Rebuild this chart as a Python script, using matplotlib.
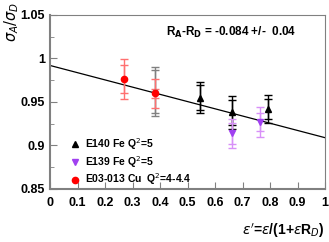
import matplotlib
matplotlib.use("Agg")
import matplotlib.pyplot as plt
import numpy as np

plt.rcParams['font.family'] = ['Liberation Sans', 'DejaVu Sans']

# E140 Fe, Q^2=5 (black up-triangles)
e140_x = [0.545, 0.661, 0.792]
e140_y = [0.955, 0.938, 0.942]
e140_stat = [0.014, 0.014, 0.012]
e140_tot = [0.018, 0.019, 0.0165]

# E139 Fe, Q^2=5 (violet down-triangles)
e139_x = [0.661, 0.763]
e139_y = [0.914, 0.927]
e139_stat = [0.012, 0.010]
e139_tot = [0.017, 0.0175]

# E03-013 Cu, Q^2=4-4.4 (red circles)
cu_x = [0.268, 0.383]
cu_y = [0.976, 0.960]
cu_stat = [0.016, 0.005]
cu_tot = [0.023, 0.0165]

# extra grey point (not in legend)
grey_x = [0.383]
grey_y = [0.962]
grey_stat = [0.025]
grey_tot = [0.028]

# fit line
fit_intercept = 0.992
fit_slope = -0.083

fig = plt.figure(figsize=(3.29, 2.42), dpi=100)
ax = fig.add_axes([50/329, 53/242, 275/329, 174/242])

def draw(x, y, stat, tot, color, barcolor, marker, ms, label=None):
    ax.errorbar(x, y, yerr=tot, fmt='none', ecolor=barcolor, elinewidth=1.0,
                capsize=3, capthick=1.0, zorder=2)
    ax.errorbar(x, y, yerr=stat, fmt='none', ecolor=barcolor, elinewidth=1.0,
                capsize=3, capthick=1.0, zorder=2)
    ax.plot(x, y, linestyle='none', marker=marker, color=color, ms=ms,
            label=label, zorder=3)

draw(grey_x, grey_y, grey_stat, grey_tot, '#808080', '#808080', 's', 3)
draw(e140_x, e140_y, e140_stat, e140_tot, 'black', 'black', '^', 4.5, 'E140 Fe Q$^2$=5')
draw(e139_x, e139_y, e139_stat, e139_tot, '#a040f0', '#d890f8', 'v', 4.5, 'E139 Fe Q$^2$=5')
draw(cu_x, cu_y, cu_stat, cu_tot, 'red', '#ff7070', 'o', 4.5, 'E03-013 Cu  Q$^2$=4-4.4')

xs = np.array([0.0, 1.0])
ax.plot(xs, fit_intercept + fit_slope * xs, color='black', lw=0.9, zorder=1)

ax.set_xlim(0, 1)
ax.set_ylim(0.85, 1.05)
ax.set_xticks(np.arange(0, 1.01, 0.1))
ax.set_xticklabels(['0', '0.1', '0.2', '0.3', '0.4', '0.5', '0.6', '0.7', '0.8', '0.9', '1'])
ax.set_yticks([0.85, 0.9, 0.95, 1.0, 1.05])
ax.set_yticklabels(['0.85', '0.9', '0.95', '1', '1.05'])
ax.set_yticks([0.875, 0.925, 0.975, 1.025], minor=True)
ax.tick_params(axis='both', which='both', direction='in', top=False, right=False,
               labelsize=9, colors='#808080', labelcolor='black')
ax.tick_params(axis='both', which='major', length=5)
ax.tick_params(axis='y', which='minor', length=3)
ax.tick_params(axis='x', pad=6)
for lab in ax.get_xticklabels() + ax.get_yticklabels():
    lab.set_fontweight('bold')
for s in ax.spines.values():
    s.set_color('#808080')
ax.spines['left'].set_linewidth(1.5)
ax.spines['bottom'].set_linewidth(1.5)
ax.spines['top'].set_linewidth(0.8)
ax.spines['right'].set_linewidth(0.8)

ax.text((166 - 50) / 275, 0.9, r'R$_\mathbf{A}$-R$_\mathbf{D}$ = -0.084 +/-  0.04',
        transform=ax.transAxes, fontsize=8.5, fontweight='bold', va='center')

fig.text(12/329, 1 - 2/242, r'$\sigma_A/\sigma_D$', rotation=90, ha='center', va='top',
         fontsize=10.5)
fig.text(325/329, 11/242, r"$\varepsilon'$=$\varepsilon$/(1+$\varepsilon$R$_D$)", ha='right',
         va='center', fontsize=10, fontweight='bold')

ax.legend(loc='lower left', bbox_to_anchor=(0.03, -0.045), frameon=False,
          handletextpad=0.3, labelspacing=0.2, handlelength=1.4,
          prop={'weight': 'bold', 'size': 7.5})

fig.savefig('out.png', dpi=100)
